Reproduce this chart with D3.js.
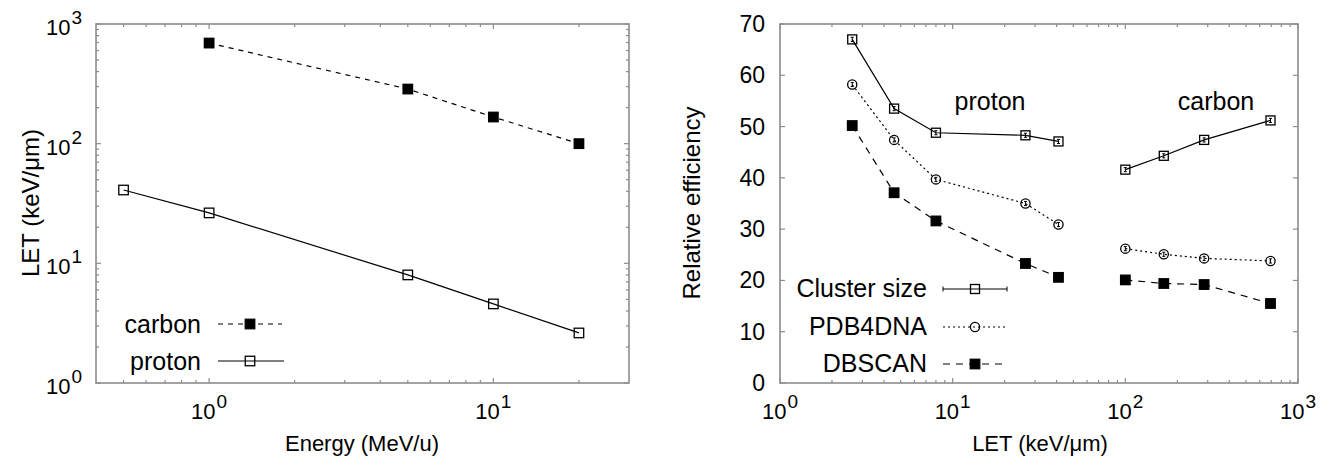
<!DOCTYPE html>
<html>
<head>
<meta charset="utf-8">
<script src="https://cdn.jsdelivr.net/npm/d3@7"></script>
<style>
  body { margin: 0; background: #fff; }
  svg text { font-family: "Liberation Sans", Arial, Helvetica, sans-serif; fill: #000; }
</style>
</head>
<body>
<div id="chart"></div>
<script>
(function(){
    // 1. Data
    // left panel: LET vs energy
    const protonEnergy = [0.5, 1, 5, 10, 20];
    const protonLET = [41, 26.4, 8.0, 4.58, 2.62];
    const carbonEnergy = [1, 5, 10, 20];
    const carbonLET = [693, 286, 167, 100];

    // right panel: relative efficiency vs LET
    const protonLETsorted = [2.62, 4.58, 8.0, 26.4, 41];
    const carbonLETsorted = [100, 167, 286, 693];
    const clusterProton = [67.0, 53.5, 48.8, 48.3, 47.1];
    const clusterCarbon = [41.6, 44.3, 47.4, 51.2];
    const pdbProton = [58.2, 47.4, 39.7, 35.0, 30.9];
    const pdbCarbon = [26.2, 25.1, 24.3, 23.8];
    const dbscanProton = [50.2, 37.1, 31.6, 23.3, 20.6];
    const dbscanCarbon = [20.1, 19.4, 19.2, 15.5];
    const effError = 0.4;

    const leftXTicks = [0, 1];          // exponents
    const leftYTicks = [0, 1, 2, 3];
    const rightXTicks = [0, 1, 2, 3];
    const rightYTicks = [0, 10, 20, 30, 40, 50, 60, 70];

    // 2. Dimensions
    const width = 1337, height = 466;
    const frameColor = "#8c8c8c";
    const majLen = 5, minLen = 3;

    const svg = d3.select("#chart").append("svg")
        .attr("width", width).attr("height", height);

    // 3. Scales
    const xL = d3.scaleLog().domain([0.4, 30]).range([96, 629]);
    const yL = d3.scaleLog().domain([1, 1000]).range([383, 24]);
    const xR = d3.scaleLog().domain([1, 1000]).range([780, 1298]);
    const yR = d3.scaleLinear().domain([0, 70]).range([383, 24]);

    // minor ticks of a log scale (2..9 per decade)
    function logMinor(scale) {
        const [a, b] = scale.domain();
        const out = [];
        for (let k = Math.floor(Math.log10(a)); k <= Math.ceil(Math.log10(b)); k++) {
            for (let m = 2; m <= 9; m++) {
                const v = m * Math.pow(10, k);
                if (v > a && v < b) out.push(v);
            }
        }
        return out;
    }

    // frame with inward ticks on all four sides
    function frame(x, y, xMaj, xMin, yMaj, yMin) {
        const [x0, x1] = x.range();
        const [yb, yt] = y.range();
        const g = svg.append("g").attr("stroke", frameColor).attr("stroke-width", 1.2).attr("fill", "none");
        const tick = (x1_, y1_, x2_, y2_) => g.append("line")
            .attr("x1", x1_).attr("y1", y1_).attr("x2", x2_).attr("y2", y2_);
        xMaj.forEach(v => { tick(x(v), yb, x(v), yb - majLen); tick(x(v), yt, x(v), yt + majLen); });
        xMin.forEach(v => { tick(x(v), yb, x(v), yb - minLen); tick(x(v), yt, x(v), yt + minLen); });
        yMaj.forEach(v => { tick(x0, y(v), x0 + majLen, y(v)); tick(x1, y(v), x1 - majLen, y(v)); });
        yMin.forEach(v => { tick(x0, y(v), x0 + minLen, y(v)); tick(x1, y(v), x1 - minLen, y(v)); });
        g.append("rect").attr("x", x0).attr("y", yt)
            .attr("width", x1 - x0).attr("height", yb - yt)
            .attr("stroke-width", 1.6);
    }

    function powLabel(x, y, exp, anchor) {
        const t = svg.append("text").attr("x", x).attr("y", y)
            .attr("text-anchor", anchor).attr("font-size", 22);
        t.append("tspan").text("10");
        t.append("tspan").attr("dy", -11).attr("dx", 1).attr("font-size", 19).text(exp);
    }

    function label(x, y, str, size, anchor, rotate) {
        const t = svg.append("text").attr("font-size", size).attr("text-anchor", anchor || "middle").text(str);
        if (rotate) t.attr("transform", `translate(${x},${y}) rotate(-90)`);
        else t.attr("x", x).attr("y", y);
        return t;
    }

    function squareMarker(g, cx, cy, filled, s) {
        s = s || 9.5;
        g.append("rect").attr("x", cx - s / 2).attr("y", cy - s / 2)
            .attr("width", s).attr("height", s)
            .attr("fill", filled ? "#000" : "none")
            .attr("stroke", "#000").attr("stroke-width", 1.3);
    }
    function circleMarker(g, cx, cy) {
        g.append("circle").attr("cx", cx).attr("cy", cy).attr("r", 4.6)
            .attr("fill", "none").attr("stroke", "#000").attr("stroke-width", 1.3);
    }

    // 4. Left panel
    const tenPow = e => Math.pow(10, e);
    frame(xL, yL, leftXTicks.map(tenPow), logMinor(xL), leftYTicks.map(tenPow), logMinor(yL));

    leftXTicks.forEach(e => powLabel(xL(tenPow(e)), 419, e, "middle"));
    leftYTicks.forEach(e => powLabel(82, yL(tenPow(e)) + 11, e, "end"));
    label(362, 451, "Energy (MeV/u)", 22);
    label(39, 203, "LET (keV/\u03bcm)", 24, "middle", true);

    const lineL = d3.line().x(d => xL(d[0])).y(d => yL(d[1]));
    const gL = svg.append("g");
    gL.append("path").datum(d3.zip(carbonEnergy, carbonLET)).attr("d", lineL)
        .attr("fill", "none").attr("stroke", "#000").attr("stroke-width", 1.2).attr("stroke-dasharray", "5,5");
    gL.append("path").datum(d3.zip(protonEnergy, protonLET)).attr("d", lineL)
        .attr("fill", "none").attr("stroke", "#000").attr("stroke-width", 1.2);
    d3.zip(carbonEnergy, carbonLET).forEach(d => squareMarker(gL, xL(d[0]), yL(d[1]), true));
    d3.zip(protonEnergy, protonLET).forEach(d => squareMarker(gL, xL(d[0]), yL(d[1]), false));

    // left legend
    label(201, 333, "carbon", 25, "end");
    label(201, 370, "proton", 25, "end");
    gL.append("line").attr("x1", 218).attr("x2", 282).attr("y1", 324).attr("y2", 324)
        .attr("stroke", "#000").attr("stroke-width", 1.2).attr("stroke-dasharray", "5,5");
    squareMarker(gL, 250, 324, true);
    gL.append("line").attr("x1", 218).attr("x2", 284).attr("y1", 361).attr("y2", 361)
        .attr("stroke", "#000").attr("stroke-width", 1.2);
    squareMarker(gL, 250, 361, false);

    // 5. Right panel
    frame(xR, yR, rightXTicks.map(tenPow), logMinor(xR), rightYTicks, []);

    rightXTicks.forEach(e => powLabel(xR(tenPow(e)), 419, e, "middle"));
    rightYTicks.forEach(v => label(765, yR(v) + 8, v, 23, "end"));
    label(1040, 451, "LET (keV/\u03bcm)", 22);
    label(700, 203, "Relative efficiency", 24, "middle", true);

    label(990, 110, "proton", 25);
    label(1216, 110, "carbon", 25);

    const series = [
        { name: "Cluster size", proton: clusterProton, carbon: clusterCarbon, dash: null, marker: "open" },
        { name: "PDB4DNA", proton: pdbProton, carbon: pdbCarbon, dash: "2,3", marker: "circle" },
        { name: "DBSCAN", proton: dbscanProton, carbon: dbscanCarbon, dash: "7,6", marker: "filled" }
    ];

    const lineR = d3.line().x(d => xR(d[0])).y(d => yR(d[1]));
    const gR = svg.append("g");
    const legendY = [289, 327, 364];

    series.forEach((s, i) => {
        [d3.zip(protonLETsorted, s.proton), d3.zip(carbonLETsorted, s.carbon)].forEach(pts => {
            gR.append("path").datum(pts).attr("d", lineR)
                .attr("fill", "none").attr("stroke", "#000").attr("stroke-width", 1.2)
                .attr("stroke-dasharray", s.dash);
            pts.forEach(d => {
                const cx = xR(d[0]), cy = yR(d[1]);
                if (s.marker === "open") squareMarker(gR, cx, cy, false, 9);
                else if (s.marker === "filled") squareMarker(gR, cx, cy, true, 9.5);
                else circleMarker(gR, cx, cy);
                // tiny error bars
                gR.append("line").attr("x1", cx).attr("x2", cx)
                    .attr("y1", yR(d[1] - effError)).attr("y2", yR(d[1] + effError))
                    .attr("stroke", "#000").attr("stroke-width", 1);
                [d[1] - effError, d[1] + effError].forEach(v => gR.append("line")
                    .attr("x1", cx - 1.5).attr("x2", cx + 1.5).attr("y1", yR(v)).attr("y2", yR(v))
                    .attr("stroke", "#000").attr("stroke-width", 1));
            });
        });

        // legend entry
        const ly = legendY[i];
        label(927, ly + 8, s.name, 25, "end");
        gR.append("line").attr("x1", 943).attr("x2", 1007).attr("y1", ly).attr("y2", ly)
            .attr("stroke", "#000").attr("stroke-width", 1.2).attr("stroke-dasharray", s.dash);
        if (s.marker === "open") {
            squareMarker(gR, 975, ly, false, 9);
            [943, 1007].forEach(xx => gR.append("line").attr("x1", xx).attr("x2", xx)
                .attr("y1", ly - 2.5).attr("y2", ly + 2.5).attr("stroke", "#000").attr("stroke-width", 1));
        } else if (s.marker === "filled") squareMarker(gR, 975, ly, true, 9.5);
        else circleMarker(gR, 975, ly);
    });
})();
</script>
</body>
</html>
